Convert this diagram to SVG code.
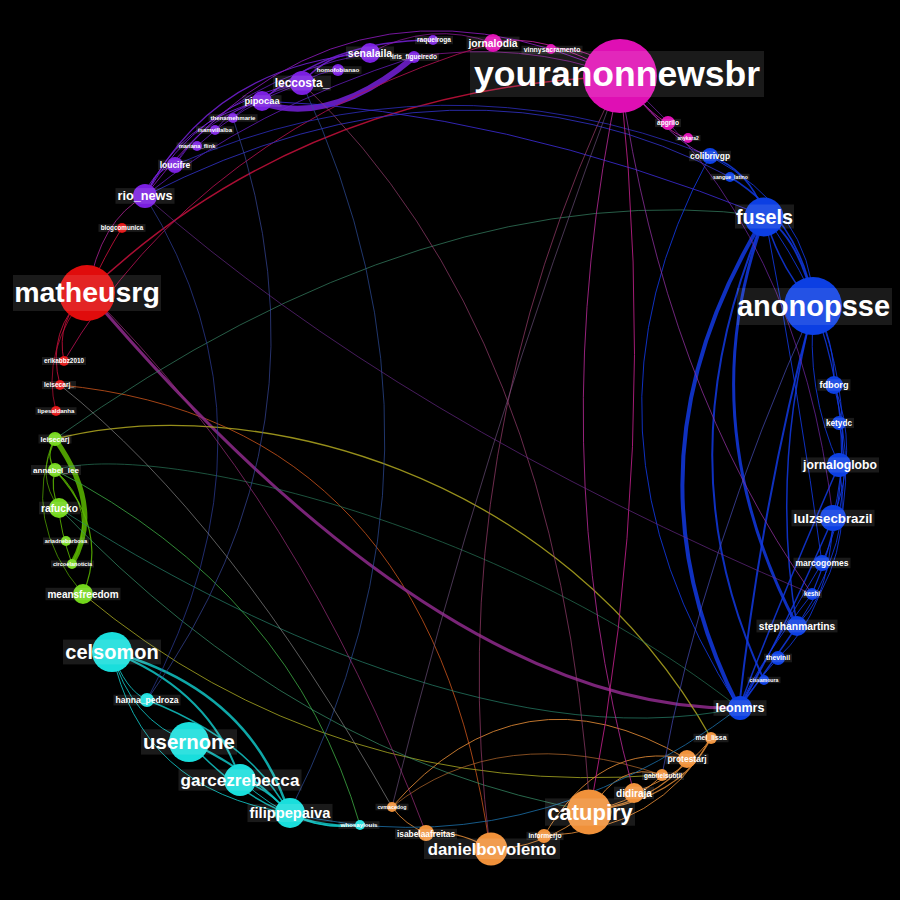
<svg xmlns="http://www.w3.org/2000/svg" width="900" height="900" viewBox="0 0 900 900">
<style>
.e path{fill:none;stroke-opacity:.85;stroke-linecap:round}
.bl{stroke:#1238e0}.pu{stroke:#7420d8}.re{stroke:#c8103c}.gn{stroke:#5cb800}.cy{stroke:#12c4c4}.or{stroke:#e08a35}.mg{stroke:#c0209a}.ye{stroke:#b0a820}
.P{fill:#7a1fe0}.R{fill:#e00c0c}.G{fill:#72d61a}.C{fill:#19dedc}.O{fill:#f0913a}.B{fill:#0c3fe3}.M{fill:#df0fb4}
.lb{fill:#fff;fill-opacity:.1}
text{font-family:"Liberation Sans",Arial,sans-serif;font-weight:bold;fill:#fff;text-anchor:middle}
</style>
<rect width="900" height="900" fill="#000"/>
<g id="edges" class="e">
<path class="pu" stroke-width="6" d="M414,57 Q332,126 262,103"/>
<path class="pu" stroke-width="1.5" d="M262,101 Q330,40 433,40"/>
<path class="pu" stroke-width="1.2" d="M145,196 Q212,65 370,53"/>
<path class="pu" stroke-width="1" d="M145,196 Q200,100 302,83"/>
<path stroke="#8a1ab8" stroke-width="1" d="M145,196 Q337,-56 620,76"/>
<path class="pu" stroke-width="0.8" d="M175,165 Q230,80 370,53"/>
<path class="pu" stroke-width="0.8" d="M197,146 Q240,105 302,83"/>
<path class="pu" stroke-width="1" d="M145,196 Q180,120 262,101"/>
<path class="pu" stroke-width="0.8" d="M175,165 Q200,120 262,101"/>
<path class="pu" stroke-width="1" d="M145,196 Q150,172 175,165"/>
<path class="pu" stroke-width="1.5" d="M302,83 Q330,50 370,53"/>
<path class="pu" stroke-width="0.8" d="M338,70 Q318,72 302,83"/>
<path class="pu" stroke-width="0.8" d="M233,118 Q255,95 302,83"/>
<path class="pu" stroke-width="0.8" d="M215,130 Q235,105 262,101"/>
<path class="pu" stroke-width="0.8" d="M145,196 Q250,110 414,57"/>
<path stroke="#9a1aa8" stroke-width="0.8" d="M370,53 Q430,20 493,43"/>
<path stroke="#9a1aa8" stroke-width="0.8" d="M414,57 Q520,40 620,76"/>
<path stroke="#a0208a" stroke-width="1" d="M88,292 Q100,220 145,196"/>
<path class="re" stroke-width="1.5" d="M88,292 Q300,90 620,76"/>
<path stroke="#b01050" stroke-width="1" d="M64,361 Q200,130 493,43"/>
<path class="re" stroke-width="1" d="M122,228 Q105,255 88,292"/>
<path class="re" stroke-width="1" d="M88,292 Q55,320 64,361"/>
<path class="re" stroke-width="1" d="M88,292 Q45,330 60,385"/>
<path class="re" stroke-width="0.8" d="M88,292 Q40,350 56,411"/>
<path stroke="#c0501a" stroke-width="1" d="M60,385 Q430,420 490,849"/>
<path stroke="#8e2a8c" stroke-width="3" d="M88,292 C230,460 480,712 739,708"/>
<path class="ye" stroke-width="1.3" d="M55,439 C250,390 560,470 711,738"/>
<path stroke="#a0a020" stroke-width="1" d="M83,594 Q330,800 662,775"/>
<path class="gn" stroke-width="5" d="M55,439 Q104.5,508.5 72,564"/>
<path class="gn" stroke-width="1.2" d="M55,470 Q110,530 83,594"/>
<path class="gn" stroke-width="0.8" d="M55,439 Q20,520 83,594"/>
<path class="gn" stroke-width="1.2" d="M55,439 Q45,455 55,470"/>
<path class="gn" stroke-width="1.2" d="M55,470 Q50,490 59,508"/>
<path class="gn" stroke-width="1" d="M59,508 Q60,530 72,564"/>
<path class="gn" stroke-width="1" d="M55,470 Q100,510 72,564"/>
<path class="gn" stroke-width="0.8" d="M55,439 Q35,475 59,508"/>
<path stroke="#3aa040" stroke-width="1" d="M55,470 Q292,592 360,825"/>
<path stroke="#3a8a6a" stroke-width="0.8" d="M55,439 Q430,172 765,216"/>
<path stroke="#2a7a5a" stroke-width="0.8" d="M55,470 C150,440 500,520 739,708"/>
<path stroke="#2a8a70" stroke-width="0.8" d="M59,508 C200,600 500,760 739,708"/>
<path stroke="#3c9a70" stroke-width="0.8" d="M59,508 Q300,760 590,811"/>
<path class="cy" stroke-width="2.5" d="M112,652 Q250,690 289,813"/>
<path class="cy" stroke-width="2" d="M112,652 Q210,690 240,779"/>
<path class="cy" stroke-width="2" d="M189,742 Q250,770 289,813"/>
<path class="cy" stroke-width="1" d="M112,652 Q130,720 189,742"/>
<path class="cy" stroke-width="1.5" d="M147,700 Q250,740 289,813"/>
<path class="cy" stroke-width="1.5" d="M240,779 Q270,790 289,813"/>
<path class="cy" stroke-width="1.5" d="M189,742 Q270,830 360,825"/>
<path class="cy" stroke-width="1.5" d="M289,813 Q320,830 360,825"/>
<path class="cy" stroke-width="1" d="M112,652 Q140,790 289,813"/>
<path class="cy" stroke-width="1" d="M240,779 Q300,835 360,825"/>
<path class="cy" stroke-width="1" d="M112,652 Q125,690 147,700"/>
<path class="or" stroke-width="1.2" d="M590,811 Q680,800 711,738"/>
<path class="or" stroke-width="1.2" d="M590,811 Q660,800 687,759"/>
<path class="or" stroke-width="1" d="M590,811 Q640,800 662,775"/>
<path class="or" stroke-width="1" d="M634,793 Q690,770 711,738"/>
<path class="or" stroke-width="1" d="M544,836 Q600,740 687,759"/>
<path class="or" stroke-width="1" d="M392,807 Q520,660 687,759"/>
<path class="or" stroke-width="1.2" d="M426,833 Q460,830 490,849"/>
<path class="or" stroke-width="1" d="M392,807 Q405,825 426,833"/>
<path class="or" stroke-width="1" d="M490,849 Q540,850 590,811"/>
<path class="or" stroke-width="1" d="M544,836 Q660,830 711,738"/>
<path stroke="#c07030" stroke-width="0.8" d="M392,807 Q500,720 662,775"/>
<path class="or" stroke-width="1" d="M590,811 Q620,760 662,775"/>
<path class="bl" stroke-width="4" d="M765,216 Q614,462 739,708"/>
<path class="bl" stroke-width="3" d="M765,216 Q689,419 797,626"/>
<path class="bl" stroke-width="2" d="M765,216 Q660,460 764,680"/>
<path class="bl" stroke-width="2" d="M814,305 Q763,493 739,708"/>
<path class="bl" stroke-width="1.5" d="M814,305 Q770,470 797,626"/>
<path class="bl" stroke-width="2" d="M765,216 Q800,240 814,305"/>
<path class="bl" stroke-width="1.5" d="M765,216 Q780,270 814,305"/>
<path class="bl" stroke-width="1.5" d="M710,156 Q750,170 765,216"/>
<path class="bl" stroke-width="1.5" d="M730,177 Q800,220 814,305"/>
<path class="bl" stroke-width="1" d="M710,156 Q810,210 814,305"/>
<path class="bl" stroke-width="1.2" d="M814,305 Q835,340 834,385"/>
<path class="bl" stroke-width="1.2" d="M814,305 Q870,460 812,594"/>
<path class="bl" stroke-width="1" d="M765,216 Q870,360 833,518"/>
<path class="bl" stroke-width="1" d="M834,385 Q860,450 833,518"/>
<path class="bl" stroke-width="1" d="M834,385 Q870,520 797,626"/>
<path class="bl" stroke-width="1.5" d="M839,465 Q780,600 739,708"/>
<path class="bl" stroke-width="1.5" d="M833,518 Q780,640 739,708"/>
<path class="bl" stroke-width="1.5" d="M797,626 Q760,680 739,708"/>
<path class="bl" stroke-width="1" d="M822,563 Q770,650 739,708"/>
<path class="bl" stroke-width="1" d="M812,594 Q760,660 739,708"/>
<path class="bl" stroke-width="1" d="M778,658 Q750,690 739,708"/>
<path class="bl" stroke-width="1" d="M839,423 Q855,490 822,563"/>
<path class="bl" stroke-width="1" d="M839,465 Q855,560 797,626"/>
<path class="bl" stroke-width="1" d="M833,518 Q830,610 778,658"/>
<path class="bl" stroke-width="1" d="M814,305 Q805,390 839,465"/>
<path class="bl" stroke-width="1" d="M765,216 Q800,400 822,563"/>
<path class="bl" stroke-width="1" d="M710,156 Q560,430 739,708"/>
<path stroke="#2a2ab0" stroke-width="1" d="M175,165 Q438,50 710,156"/>
<path stroke="#3030c0" stroke-width="1" d="M145,196 Q462,34 730,177"/>
<path stroke="#3050a0" stroke-width="0.8" d="M302,83 Q474,452 289,813"/>
<path stroke="#3a4aa0" stroke-width="0.8" d="M233,118 Q340,431 147,700"/>
<path stroke="#1a6aa0" stroke-width="1" d="M739,708 Q526,869 289,813"/>
<path stroke="#3a2ad0" stroke-width="1" d="M262,101 Q500,110 765,216"/>
<path stroke="#4a50c0" stroke-width="0.8" d="M814,305 Q700,560 662,775"/>
<path stroke="#3040a0" stroke-width="0.8" d="M145,196 Q290,430 147,700"/>
<path stroke="#c0208a" stroke-width="1" d="M620,76 Q660,450 590,811"/>
<path stroke="#b02890" stroke-width="1" d="M620,76 Q540,450 634,793"/>
<path stroke="#9030a0" stroke-width="0.9" d="M620,76 Q664,385 812,594"/>
<path class="mg" stroke-width="1" d="M620,76 Q650,115 668,123"/>
<path class="mg" stroke-width="1" d="M620,76 Q665,135 688,138"/>
<path class="mg" stroke-width="1" d="M620,76 Q540,30 493,43"/>
<path class="mg" stroke-width="1" d="M620,76 Q590,45 551,49"/>
<path stroke="#8a2ab0" stroke-width="1" d="M620,76 Q680,150 710,156"/>
<path stroke="#7a2ab0" stroke-width="0.8" d="M620,76 Q800,230 833,518"/>
<path stroke="#a03080" stroke-width="0.8" d="M88,292 Q300,500 426,833"/>
<path stroke="#a04070" stroke-width="0.8" d="M620,76 Q440,450 490,849"/>
<path stroke="#9a4070" stroke-width="0.8" d="M302,83 Q560,330 590,811"/>
<path stroke="#6a2a8a" stroke-width="0.8" d="M145,196 Q400,420 812,594"/>
<path stroke="#888888" stroke-width="0.8" d="M60,385 Q230,520 392,807"/>
<path stroke="#7a5a8a" stroke-width="0.7" d="M392,807 Q480,450 620,76"/>
</g>
<g id="n-senalaila"><circle class="P" cx="370" cy="53" r="10"/><rect class="lb" x="346" y="46.5" width="48" height="13"/><text x="370" y="56.7" font-size="10.5">senalaila</text></g>
<g id="n-iris_figueiredo"><circle class="P" cx="414" cy="57" r="6"/><rect class="lb" x="390" y="53" width="49" height="8"/><text x="414.5" y="59.3" font-size="6.5">iris_figueiredo</text></g>
<g id="n-raqueiroga"><circle class="P" cx="433" cy="40" r="5"/><rect class="lb" x="415" y="36" width="38" height="8.2"/><text x="434" y="42.3" font-size="6.6">raqueiroga</text></g>
<g id="n-homofobianao"><circle class="P" cx="338" cy="70" r="6"/><rect class="lb" x="314.5" y="66.2" width="47" height="7.7"/><text x="338" y="72.2" font-size="6.2">homofobianao</text></g>
<g id="n-leccosta_"><circle class="P" cx="302" cy="83" r="12"/><rect class="lb" x="273" y="75.6" width="58" height="14.9"/><text x="302" y="87.2" font-size="12">leccosta_</text></g>
<g id="n-pipocaa"><circle class="P" cx="262" cy="101" r="10"/><rect class="lb" x="242.5" y="95.2" width="39" height="11.5"/><text x="262" y="104.3" font-size="9.3">pipocaa</text></g>
<g id="n-thenamehmarie"><circle class="P" cx="233" cy="118" r="5"/><rect class="lb" x="208.5" y="114.2" width="49" height="7.6"/><text x="233" y="120.1" font-size="6.1">thenamehmarie</text></g>
<g id="n-isamvillalba"><circle class="P" cx="215" cy="130" r="5"/><rect class="lb" x="196" y="126.3" width="38" height="7.4"/><text x="215" y="132.1" font-size="6">isamvillalba</text></g>
<g id="n-mariana_flink"><circle class="P" cx="197" cy="146" r="5"/><rect class="lb" x="176.5" y="142.5" width="41" height="7.1"/><text x="197" y="148" font-size="5.7">mariana_flink</text></g>
<g id="n-loucifre"><circle class="P" cx="175" cy="165" r="8"/><rect class="lb" x="158" y="159.7" width="34" height="10.5"/><text x="175" y="168" font-size="8.5">loucifre</text></g>
<g id="n-rio_news"><circle class="P" cx="145" cy="196" r="12"/><rect class="lb" x="115.5" y="188.1" width="59" height="15.7"/><text x="145" y="200.4" font-size="12.7">rio_news</text></g>
<g id="n-blogcomunica"><circle class="R" cx="122" cy="228" r="5"/><rect class="lb" x="98.5" y="224.1" width="47" height="7.8"/><text x="122" y="230.2" font-size="6.3">blogcomunica</text></g>
<g id="n-matheusrg"><circle class="R" cx="87" cy="293" r="28"/><rect class="lb" x="13" y="275" width="148" height="36"/><text x="87" y="302" font-size="28.5">matheusrg</text></g>
<g id="n-erikabbz2010"><circle class="R" cx="64" cy="361" r="5"/><rect class="lb" x="42" y="357" width="44" height="8"/><text x="64" y="363.2" font-size="6.4">erikabbz2010</text></g>
<g id="n-leisecarj_"><circle class="R" cx="60" cy="385" r="5"/><rect class="lb" x="42" y="381" width="34" height="8.2"/><text x="59" y="387.3" font-size="6.6">leisecarj_</text></g>
<g id="n-lipesaldanha"><circle class="R" cx="56" cy="411" r="5"/><rect class="lb" x="35.5" y="407.2" width="41" height="7.6"/><text x="56" y="413.1" font-size="6.1">lipesaldanha</text></g>
<g id="n-leisecarj"><circle class="G" cx="55" cy="439" r="7"/><rect class="lb" x="38.5" y="434.5" width="33" height="9"/><text x="55" y="441.6" font-size="7.3">leisecarj</text></g>
<g id="n-annabel_lee"><circle class="G" cx="55" cy="470" r="7"/><rect class="lb" x="31" y="465" width="50" height="10"/><text x="56" y="472.8" font-size="8">annabel_lee</text></g>
<g id="n-rafucko"><circle class="G" cx="59" cy="508" r="10"/><rect class="lb" x="39" y="501.7" width="41" height="12.6"/><text x="59.5" y="511.6" font-size="10.2">rafucko</text></g>
<g id="n-ariadnebarbosa"><circle class="G" cx="66" cy="541" r="5"/><rect class="lb" x="43" y="537.5" width="46" height="7"/><text x="66" y="543" font-size="5.7">ariadnebarbosa</text></g>
<g id="n-circoelanoticia"><circle class="G" cx="72" cy="564" r="5"/><rect class="lb" x="51" y="560.5" width="43" height="7"/><text x="72.5" y="566" font-size="5.6">circoelanoticia</text></g>
<g id="n-meansfreedom"><circle class="G" cx="83" cy="594" r="10"/><rect class="lb" x="45.5" y="587.8" width="75" height="12.4"/><text x="83" y="597.5" font-size="10">meansfreedom</text></g>
<g id="n-celsomon"><circle class="C" cx="112" cy="652" r="20"/><rect class="lb" x="63" y="639.6" width="98" height="24.8"/><text x="112" y="659" font-size="20">celsomon</text></g>
<g id="n-hanna_pedroza"><circle class="C" cx="147" cy="700" r="7"/><rect class="lb" x="113.5" y="694.7" width="67" height="10.7"/><text x="147" y="703" font-size="8.6">hanna_pedroza</text></g>
<g id="n-usernone"><circle class="C" cx="189" cy="742" r="20"/><rect class="lb" x="141" y="729.3" width="96" height="25.3"/><text x="189" y="749.1" font-size="20.4">usernone</text></g>
<g id="n-garcezrebecca"><circle class="C" cx="240" cy="780" r="16"/><rect class="lb" x="178.5" y="769.4" width="123" height="21.2"/><text x="240" y="786" font-size="17.1">garcezrebecca</text></g>
<g id="n-filippepaiva"><circle class="C" cx="290" cy="813" r="15"/><rect class="lb" x="247.5" y="803.9" width="85" height="18.2"/><text x="290" y="818.1" font-size="14.7">filippepaiva</text></g>
<g id="n-whosaylouis"><circle class="C" cx="360" cy="825" r="5"/><rect class="lb" x="338.5" y="821.2" width="41" height="7.7"/><text x="359" y="827.2" font-size="6.2">whosaylouis</text></g>
<g id="n-cvmacedog"><circle class="O" cx="392" cy="807" r="5"/><rect class="lb" x="375.5" y="803.7" width="33" height="6.6"/><text x="392" y="808.9" font-size="5.3">cvmacedog</text></g>
<g id="n-isabelaafreitas"><circle class="O" cx="426" cy="833" r="8"/><rect class="lb" x="395" y="828.8" width="62" height="10.4"/><text x="426" y="836.9" font-size="8.4">isabelaafreitas</text></g>
<g id="n-danielbovolento"><circle class="O" cx="491" cy="849" r="16.5"/><rect class="lb" x="424" y="838.5" width="136" height="20.5"/><text x="492" y="854.5" font-size="16.8">danielbovolento</text></g>
<g id="n-informerjo"><circle class="O" cx="544" cy="836" r="7"/><rect class="lb" x="526.5" y="831.8" width="37" height="8.3"/><text x="545" y="838.3" font-size="6.7">informerjo</text></g>
<g id="n-catupiry"><circle class="O" cx="589" cy="812" r="22.5"/><rect class="lb" x="545" y="798.4" width="90" height="27.3"/><text x="590" y="819.7" font-size="22">catupiry</text></g>
<g id="n-didiraja"><circle class="O" cx="634" cy="793" r="10"/><rect class="lb" x="614" y="786.7" width="40" height="12.5"/><text x="634" y="796.5" font-size="10.1">didiraja</text></g>
<g id="n-gabrielsubtil"><circle class="O" cx="662" cy="775" r="6"/><rect class="lb" x="642" y="772" width="42" height="8"/><text x="663" y="778.2" font-size="6.4">gabrielsubtil</text></g>
<g id="n-protestarj"><circle class="O" cx="687" cy="759" r="9"/><rect class="lb" x="665.5" y="753.7" width="43" height="10.5"/><text x="687" y="762" font-size="8.5">protestarj</text></g>
<g id="n-mel_lissa"><circle class="O" cx="711" cy="738" r="6"/><rect class="lb" x="693.5" y="733.7" width="35" height="8.6"/><text x="711" y="740.4" font-size="6.9">mel_lissa</text></g>
<g id="n-leonmrs"><circle class="B" cx="740" cy="708" r="12"/><rect class="lb" x="713.5" y="700.2" width="53" height="15.6"/><text x="740" y="712.4" font-size="12.6">leonmrs</text></g>
<g id="n-cissamoura"><circle class="B" cx="764" cy="680" r="5"/><rect class="lb" x="747.5" y="676.8" width="33" height="6.4"/><text x="764" y="681.8" font-size="5.2">cissamoura</text></g>
<g id="n-thevinil"><circle class="B" cx="778" cy="658" r="7"/><rect class="lb" x="764" y="653.7" width="28" height="8.6"/><text x="778" y="660.4" font-size="6.9">thevinil</text></g>
<g id="n-stephanmartins"><circle class="B" cx="797" cy="626" r="10"/><rect class="lb" x="756.5" y="619.6" width="81" height="12.8"/><text x="797" y="629.6" font-size="10.3">stephanmartins</text></g>
<g id="n-keshi"><circle class="B" cx="812" cy="594" r="6"/><rect class="lb" x="802" y="590.1" width="20" height="7.8"/><text x="812" y="596.2" font-size="6.3">keshi</text></g>
<g id="n-marcogomes"><circle class="B" cx="822" cy="563" r="8"/><rect class="lb" x="793.5" y="557.7" width="57" height="10.5"/><text x="822" y="566" font-size="8.5">marcogomes</text></g>
<g id="n-lulzsecbrazil"><circle class="B" cx="833" cy="518" r="13"/><rect class="lb" x="791.5" y="509.8" width="83" height="16.5"/><text x="833" y="522.7" font-size="13.3">lulzsecbrazil</text></g>
<g id="n-jornaloglobo"><circle class="B" cx="839" cy="465" r="12"/><rect class="lb" x="801" y="457.4" width="78" height="15.1"/><text x="840" y="469.3" font-size="12.2">jornaloglobo</text></g>
<g id="n-ketydc"><circle class="B" cx="839" cy="423" r="7"/><rect class="lb" x="824" y="417.9" width="30" height="10.2"/><text x="839" y="425.9" font-size="8.2">ketydc</text></g>
<g id="n-fdborg"><circle class="B" cx="834" cy="385" r="9"/><rect class="lb" x="817.5" y="379.3" width="33" height="11.4"/><text x="834" y="388.2" font-size="9.2">fdborg</text></g>
<g id="n-anonopsse"><circle class="B" cx="813" cy="306" r="29"/><rect class="lb" x="737" y="288" width="155" height="37"/><text x="813.5" y="316" font-size="29">anonopsse</text></g>
<g id="n-fusels"><circle class="B" cx="764" cy="217" r="19.5"/><rect class="lb" x="735" y="204.5" width="59" height="24"/><text x="764.5" y="223.9" font-size="19.7">fusels</text></g>
<g id="n-sangue_latino"><circle class="B" cx="730" cy="177" r="5"/><rect class="lb" x="710.5" y="173.8" width="39" height="6.4"/><text x="730.5" y="178.8" font-size="5.2">sangue_latino</text></g>
<g id="n-colibrivgp"><circle class="B" cx="710" cy="156" r="8"/><rect class="lb" x="689" y="150.8" width="42" height="10.4"/><text x="710" y="159" font-size="8.4">colibrivgp</text></g>
<g id="n-apgrilo"><circle class="M" cx="668" cy="123" r="7"/><rect class="lb" x="655" y="118.9" width="26" height="8.2"/><text x="668" y="125.3" font-size="6.6">apgrilo</text></g>
<g id="n-anykara2"><circle class="M" cx="688" cy="138" r="5"/><rect class="lb" x="675.5" y="135" width="25" height="6.1"/><text x="688" y="139.7" font-size="4.9">anykara2</text></g>
<g id="n-youranonnewsbr"><circle class="M" cx="620" cy="76" r="37"/><rect class="lb" x="470" y="51" width="294" height="46"/><text x="617" y="86.4" font-size="35.5">youranonnewsbr</text></g>
<g id="n-jornalodia"><circle class="M" cx="493" cy="43" r="9"/><rect class="lb" x="466.5" y="36.6" width="53" height="12.8"/><text x="493" y="46.6" font-size="10.3">jornalodia</text></g>
<g id="n-vinnysacramento"><circle class="M" cx="551" cy="49" r="5"/><rect class="lb" x="521.5" y="45.7" width="61" height="8.6"/><text x="552" y="52.4" font-size="6.9">vinnysacramento</text></g>
</svg>
